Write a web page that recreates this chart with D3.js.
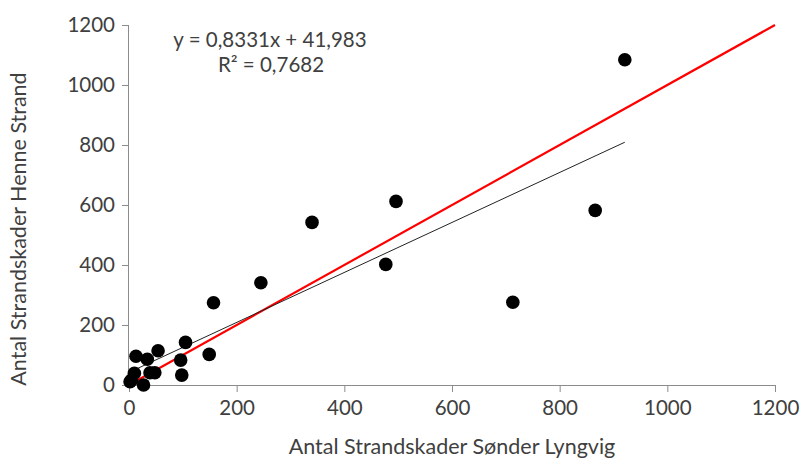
<!DOCTYPE html>
<html>
<head>
<meta charset="utf-8">
<script src="https://cdn.jsdelivr.net/npm/d3@7"></script>
<style>
  body { margin: 0; background: #fff; }
  svg text { font-family: Lato, "Open Sans", sans-serif; fill: #404040; }
  .axis path, .axis line { stroke: #8c8c8c; }
</style>
</head>
<body>
<svg id="chart" width="803" height="460"></svg>
<script>
// values
var lyngvig = [921, 866, 713, 496, 477, 340, 245, 157, 105, 149, 96, 98, 54, 34, 13, 39, 48, 10, 5, 2, 27]; // x
var henne   = [1084, 582, 276, 612, 402, 542, 341, 274, 142, 102, 83, 33, 114, 86, 96, 41, 41, 39, 17, 11, 0]; // y
var xTicks = [0, 200, 400, 600, 800, 1000, 1200];
var yTicks = [0, 200, 400, 600, 800, 1000, 1200];
var slope = 0.8331, intercept = 41.983; // trend line from the label
var equationLines = ["y = 0,8331x + 41,983", "R² = 0,7682"];

var svg = d3.select("#chart");
var margin = {top: 25, right: 28, bottom: 75, left: 129};
var width = 803 - margin.left - margin.right;
var height = 460 - margin.top - margin.bottom;

var g = svg.append("g").attr("transform", `translate(${margin.left},${margin.top})`);

var x = d3.scaleLinear().domain([0, 1200]).range([0, width]);
var y = d3.scaleLinear().domain([0, 1200]).range([height, 0]);

var xAxis = g.append("g")
    .attr("class", "axis")
    .attr("transform", `translate(0,${height})`)
    .call(d3.axisBottom(x).tickValues(xTicks).tickSizeInner(7).tickSizeOuter(0).tickPadding(8).tickFormat(d3.format("d")));
var yAxis = g.append("g")
    .attr("class", "axis")
    .call(d3.axisLeft(y).tickValues(yTicks).tickSizeInner(7).tickSizeOuter(0).tickPadding(7).tickFormat(d3.format("d")));

svg.selectAll(".axis text").style("font-size", "20.5px").style("font-family", "Lato, 'Open Sans', sans-serif");
xAxis.select(".domain").attr("d", `M0,0.5H${width}`);
yAxis.select(".domain").attr("d", `M-0.5,0V${height}`);

var pts = lyngvig.map(function (v, i) { return {x: v, y: henne[i]}; });

// y = x reference line (red)
g.append("line")
    .attr("x1", x(0)).attr("y1", y(0))
    .attr("x2", x(1200)).attr("y2", y(1200))
    .attr("stroke", "#ff0000")
    .attr("stroke-width", 2.2);

// linear trend line over the data range
var xMin = d3.min(lyngvig), xMax = d3.max(lyngvig);
g.append("line")
    .attr("x1", x(xMin)).attr("y1", y(slope * xMin + intercept))
    .attr("x2", x(xMax)).attr("y2", y(slope * xMax + intercept))
    .attr("stroke", "#222")
    .attr("stroke-width", 1);

g.append("g").selectAll("circle")
    .data(pts)
    .enter()
    .append("circle")
    .attr("cx", d => x(d.x))
    .attr("cy", d => y(d.y))
    .attr("r", 6.8)
    .attr("fill", "#000");

// equation label
var eq = svg.append("text")
    .attr("text-anchor", "middle")
    .style("font-size", "20.5px")
    .attr("y", 47);
eq.append("tspan").attr("x", 270).attr("dy", 0).text(equationLines[0]);
eq.append("tspan").attr("x", 271).attr("dy", 25).text(equationLines[1]);

// axis titles
svg.append("text")
    .attr("text-anchor", "middle")
    .style("font-size", "21.5px")
    .attr("x", 452).attr("y", 454)
    .text("Antal Strandskader Sønder Lyngvig");

svg.append("text")
    .attr("text-anchor", "middle")
    .style("font-size", "21.5px")
    .attr("transform", "translate(26,229) rotate(-90)")
    .text("Antal Strandskader Henne Strand");
</script>
</body>
</html>
